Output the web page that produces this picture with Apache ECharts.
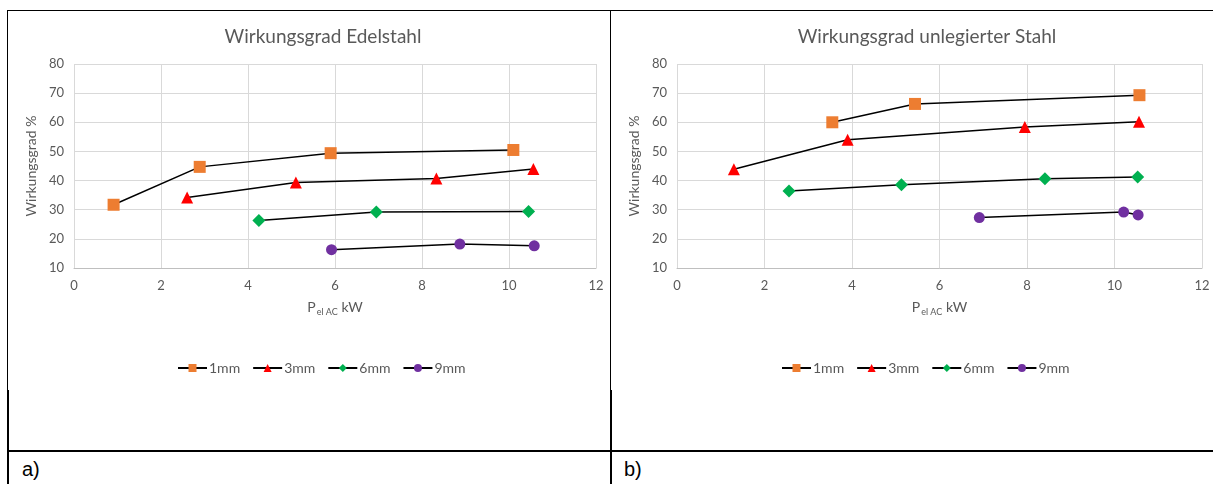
<!DOCTYPE html>
<html>
<head>
<meta charset="utf-8">
<script src="https://cdn.jsdelivr.net/npm/echarts@6/dist/echarts.min.js"></script>
<style>
  html, body { margin: 0; padding: 0; background: #fff; }
  #wrap { position: relative; width: 1213px; height: 484px; overflow: hidden; }
  .chart { position: absolute; top: 0; height: 450px; }
  .ln { position: absolute; background: #000; }
  .lab { position: absolute; font-family: "Liberation Sans", Arial, sans-serif; font-size: 20px; color: #000; }
</style>
</head>
<body>
<div id="wrap">
  <div id="c1" class="chart" style="left:0;width:610px;"></div>
  <div id="c2" class="chart" style="left:610px;width:603px;"></div>
  <div class="ln" style="left:7px;top:10px;width:1206px;height:1px;"></div>
  <div class="ln" style="left:7px;top:10px;width:1px;height:380px;"></div>
  <div class="ln" style="left:7px;top:390px;width:2px;height:94px;"></div>
  <div class="ln" style="left:610px;top:10px;width:1px;height:380px;"></div>
  <div class="ln" style="left:610px;top:390px;width:2px;height:94px;"></div>
  <div class="ln" style="left:7px;top:450px;width:1206px;height:2px;"></div>
  <div class="lab" style="left:22px;top:458px;">a)</div>
  <div class="lab" style="left:624px;top:458px;">b)</div>
</div>
<script>
// ---- Data ----
const seriesNames = ['1mm', '3mm', '6mm', '9mm'];
const xTicks = [0, 2, 4, 6, 8, 10, 12];
const yTicks = [10, 20, 30, 40, 50, 60, 70, 80];

// Edelstahl (a)
const a_1mm = [[0.91, 31.7], [2.89, 44.7], [5.9, 49.4], [10.1, 50.5]];
const a_3mm = [[2.6, 34.2], [5.1, 39.3], [8.33, 40.7], [10.56, 44.0]];
const a_6mm = [[4.25, 26.3], [6.95, 29.2], [10.45, 29.4]];
const a_9mm = [[5.92, 16.3], [8.87, 18.2], [10.58, 17.6]];

// unlegierter Stahl (b)
const b_1mm = [[3.55, 60.0], [5.44, 66.3], [10.57, 69.3]];
const b_3mm = [[1.3, 43.9], [3.9, 54.0], [7.95, 58.4], [10.56, 60.2]];
const b_6mm = [[2.56, 36.4], [5.13, 38.6], [8.41, 40.6], [10.53, 41.2]];
const b_9mm = [[6.91, 27.3], [10.21, 29.2], [10.54, 28.2]];

const titleA = 'Wirkungsgrad Edelstahl';
const titleB = 'Wirkungsgrad unlegierter Stahl';

// ---- Styles ----
const FONT = 'Lato, "Open Sans", sans-serif';
const TXT = '#595959';
const GRID = '#d9d9d9';
const markerDefs = [
  { symbol: 'rect', size: 12, color: '#ED7D31' },
  { symbol: 'triangle', size: 12, color: '#FF0000' },
  { symbol: 'diamond', size: 13, color: '#00B050' },
  { symbol: 'circle', size: 11, color: '#7030A0' }
];

function buildOption(title, titleCenter, gridLeft, gridWidth, legendLeft, dataSets) {
  return {
    animation: false,
    textStyle: { fontFamily: FONT },
    title: {
      text: title,
      left: titleCenter,
      textAlign: 'center',
      top: 22,
      textStyle: { fontFamily: FONT, fontSize: 19, fontWeight: 'normal', color: TXT }
    },
    legend: {
      data: seriesNames,
      left: legendLeft,
      top: 356,
      itemWidth: 29,
      itemHeight: 10,
      itemGap: 12,
      textStyle: { fontFamily: FONT, fontSize: 14, color: TXT, padding: [0, 0, 0, -3] }
    },
    grid: { left: gridLeft, top: 64, width: gridWidth, height: 204, containLabel: false },
    xAxis: {
      type: 'value',
      min: xTicks[0],
      max: xTicks[xTicks.length - 1],
      interval: xTicks[1] - xTicks[0],
      axisLine: { show: true, lineStyle: { color: '#bfbfbf', width: 1 } },
      axisTick: { show: false },
      splitLine: { show: true, lineStyle: { color: GRID, width: 1 } },
      axisLabel: { color: TXT, fontSize: 13, margin: 11, fontFamily: FONT },
      name: '{a|P}{b|el AC}{a| kW}',
      nameLocation: 'middle',
      nameGap: 30,
      nameTextStyle: {
        rich: {
          a: { fontSize: 14, color: TXT, fontFamily: FONT, lineHeight: 16, verticalAlign: 'bottom' },
          b: { fontSize: 9, color: TXT, fontFamily: FONT, lineHeight: 16, verticalAlign: 'bottom', padding: [0, 0, -3, 1] }
        }
      }
    },
    yAxis: {
      type: 'value',
      min: yTicks[0],
      max: yTicks[yTicks.length - 1],
      interval: yTicks[1] - yTicks[0],
      axisLine: { show: false },
      axisTick: { show: false },
      splitLine: { show: true, lineStyle: { color: GRID, width: 1 } },
      axisLabel: { color: TXT, fontSize: 13, margin: 10, fontFamily: FONT },
      name: 'Wirkungsgrad %',
      nameLocation: 'middle',
      nameGap: 30,
      nameTextStyle: { color: TXT, fontSize: 14, fontFamily: FONT }
    },
    series: seriesNames.map((n, i) => ({
      name: n,
      type: 'line',
      data: dataSets[i],
      symbol: markerDefs[i].symbol,
      symbolSize: markerDefs[i].size,
      showAllSymbol: true,
      itemStyle: { color: markerDefs[i].color },
      lineStyle: { color: '#000', width: 1.5 },
      emphasis: { disabled: true },
      z: 3
    }))
  };
}

const c1 = echarts.init(document.getElementById('c1'));
c1.setOption(buildOption(titleA, 318, 74, 522, 172, [a_1mm, a_3mm, a_6mm, a_9mm]));
const c2 = echarts.init(document.getElementById('c2'));
c2.setOption(buildOption(titleB, 312, 67, 525, 166, [b_1mm, b_3mm, b_6mm, b_9mm]));
</script>
</body>
</html>
